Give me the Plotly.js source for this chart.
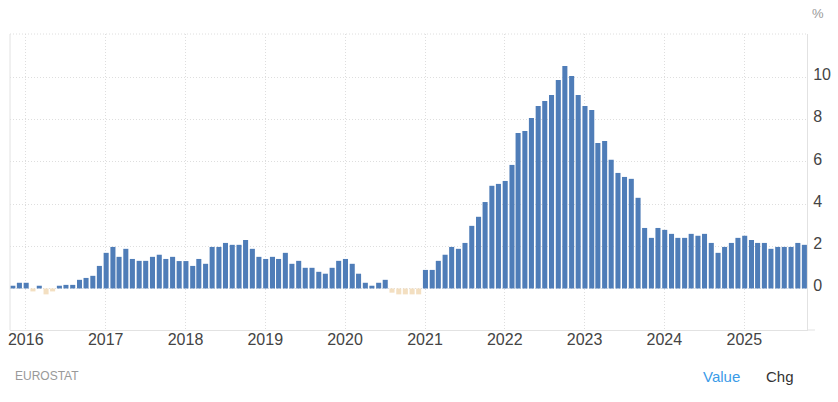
<!DOCTYPE html>
<html><head><meta charset="utf-8">
<script src="https://cdn.plot.ly/plotly-3.0.1.min.js"></script>
<style>html,body{margin:0;padding:0;background:#fff}</style></head>
<body><div id="chart" style="width:838px;height:402px"></div>
<script>
const startYear = 2015, startMonth = 10;
const values = [0.13,0.27,
 0.27,-0.14,0.13,-0.28,-0.14,0.13,0.17,0.17,0.41,0.5,0.6,1.07,
 1.69,1.97,1.5,1.88,1.4,1.31,1.31,1.5,1.6,1.4,1.5,1.3,
 1.3,1.07,1.4,1.17,1.97,1.97,2.16,2.07,2.07,2.3,1.88,1.5,
 1.4,1.5,1.4,1.69,1.17,1.31,0.98,0.98,0.79,0.7,0.98,1.31,
 1.4,1.17,0.7,0.27,0.13,0.27,0.41,-0.2,-0.28,-0.28,-0.28,-0.28,
 0.88,0.88,1.31,1.6,1.97,1.88,2.16,2.97,3.4,4.1,4.87,4.96,
 5.1,5.86,7.38,7.47,8.09,8.66,8.89,9.18,9.89,10.55,10.08,9.18,
 8.66,8.47,6.9,7.0,6.1,5.48,5.29,5.2,4.3,2.87,2.4,2.87,
 2.78,2.59,2.4,2.4,2.59,2.5,2.59,2.16,1.69,1.97,2.16,2.4,
 2.5,2.3,2.16,2.16,1.88,1.97,1.97,1.97,2.16,2.07];
const months = values.map((_, i) => {
  const m = startMonth + i;
  const y = startYear + Math.floor(m / 12);
  return y + '-' + String(m % 12 + 1).padStart(2, '0') + '-03';
});
const yearTicks = ['2016-01-01','2017-01-01','2018-01-01','2019-01-01','2020-01-01','2021-01-01','2022-01-01','2023-01-01','2024-01-01','2025-01-01'];
const yearLabels = ['2016','2017','2018','2019','2020','2021','2022','2023','2024','2025'];
const yTicks = [0,2,4,6,8,10];
const positiveColor = '#4f7db8', negativeColor = '#f3dfc1';
const gridColor = '#dedede', axisColor = '#e2e2e2';
const gridDash = '1px,2px';

Plotly.newPlot('chart', [{
  type: 'bar', x: months, y: values, width: 2e9,
  marker: {color: values.map(v => v < 0 ? negativeColor : positiveColor), line: {width: 0}},
  hoverinfo: 'x+y'
}], {
  width: 838, height: 402,
  margin: {l: 10, r: 31, t: 34, b: 72, pad: 0},
  paper_bgcolor: '#fff', plot_bgcolor: '#fff',
  showlegend: false,
  font: {family: 'Liberation Sans, Arial, sans-serif', size: 16, color: '#444'},
  xaxis: {
    type: 'date', range: ['2015-10-21', '2025-10-15'],
    tickmode: 'array', tickvals: yearTicks, ticktext: yearLabels,
    showgrid: true, gridcolor: gridColor, griddash: gridDash, gridwidth: 1,
    showline: true, linecolor: axisColor, linewidth: 1, ticks: '', zeroline: false,
    tickfont: {size: 16, color: '#444'}, ticklabelstandoff: -5, fixedrange: true
  },
  yaxis: {
    side: 'right', range: [-1.97, 12.07],
    tickmode: 'array', tickvals: yTicks, ticktext: yTicks.map(String),
    showgrid: true, gridcolor: gridColor, griddash: gridDash, gridwidth: 1,
    showline: true, linecolor: axisColor, linewidth: 1, ticks: '', zeroline: false,
    tickfont: {size: 16, color: '#444'}, ticklabelstandoff: 2, ticklabelshift: -3, fixedrange: true
  },
  shapes: [
    {type: 'line', xref: 'paper', yref: 'paper', x0: 0, x1: 1, y0: 1, y1: 1, line: {color: gridColor, width: 1, dash: gridDash}},
    {type: 'line', xref: 'paper', yref: 'paper', x0: 0, x1: 0, y0: 0, y1: 1, line: {color: axisColor, width: 1}},
    {type: 'line', xref: 'paper', yref: 'paper', x0: 1, x1: 1.01, y0: 0, y1: 0, line: {color: axisColor, width: 1}}
  ],
  annotations: [
    {xref: 'paper', yref: 'paper', x: 1.0035, y: 1.068, xanchor: 'left', yanchor: 'middle', text: '%', showarrow: false, font: {size: 13, color: '#999'}},
    {xref: 'paper', yref: 'paper', x: 0.0035, y: -0.156, xanchor: 'left', yanchor: 'middle', text: 'EUROSTAT', showarrow: false, font: {size: 12, color: '#999'}},
    {xref: 'paper', yref: 'paper', x: 0.867, y: -0.156, xanchor: 'left', yanchor: 'middle', text: 'Value', showarrow: false, font: {size: 15, color: '#3a9be8'}},
    {xref: 'paper', yref: 'paper', x: 0.9465, y: -0.156, xanchor: 'left', yanchor: 'middle', text: 'Chg', showarrow: false, font: {size: 15, color: '#333'}}
  ]
}, {displayModeBar: false, responsive: false});
</script></body></html>
